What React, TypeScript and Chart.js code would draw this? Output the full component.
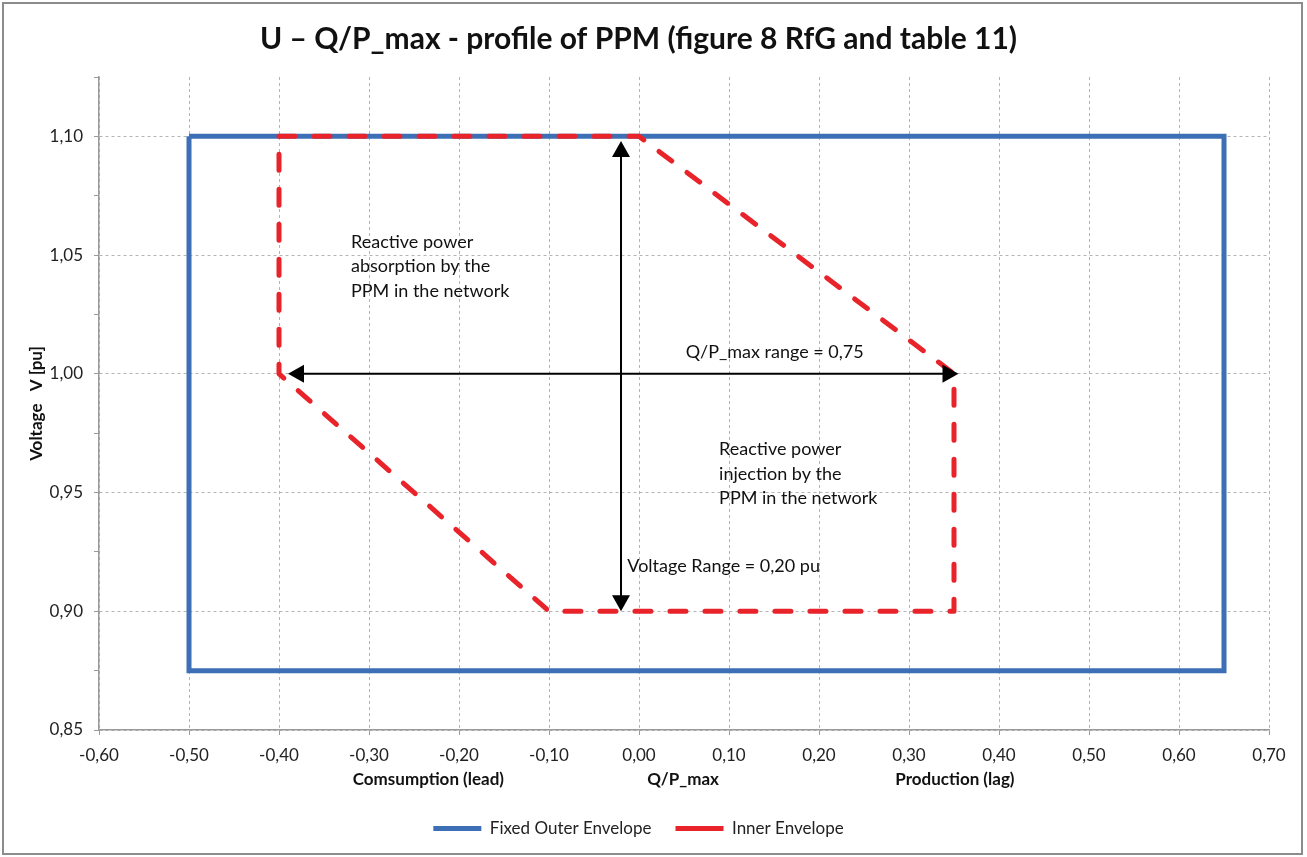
import React, { useEffect, useRef } from "react";
import { Chart, registerables } from "chart.js";

Chart.register(...registerables);

// ---- data ----
const outerX = [-0.5, 0.65, 0.65, -0.5, -0.5];
const outerY = [1.1, 1.1, 0.875, 0.875, 1.1];
const innerX = [-0.4, 0.0, 0.35, 0.35, -0.1, -0.4, -0.4];
const innerY = [1.1, 1.1, 1.0, 0.9, 0.9, 1.0, 1.1];
const seriesNames = ["Fixed Outer Envelope", "Inner Envelope"];

// double-headed arrows (data units)
const arrowX1 = [-0.02, -0.39];
const arrowY1 = [1.098, 1.0];
const arrowX2 = [-0.02, 0.355];
const arrowY2 = [0.9, 1.0];

// text notes, anchored at left/baseline of first line (data units)
const noteLines = [
  ["Reactive power", "absorption by the", "PPM in the network"],
  ["Q/P_max range = 0,75"],
  ["Reactive power", "injection by the", "PPM in the network"],
  ["Voltage Range = 0,20 pu"],
];
const noteX = [-0.32, 0.052, 0.089, -0.013];
const noteY = [1.053, 1.0067, 0.9658, 0.9165];

// x-axis sub titles
const xTitles = ["Comsumption (lead)", "Q/P_max", "Production (lag)"];
const xTitleAt = [-0.234, 0.049, 0.351];

const titleText = "U \u2013 Q/P_max - profile of PPM (figure 8 RfG and table 11)";
const yTitleText = "Voltage   V [pu]";

const FONT = "Lato";
const BLUE = "#3d6fb6";
const RED = "#e8232a";
const GRID = "#b4b4b4";
const AXIS = "#9a9a9a";

const fmt = (v: number) => v.toFixed(2).replace(".", ",");

const overlayPlugin = {
  id: "overlay",
  afterDatasetsDraw(chart: any) {
    const { ctx, scales } = chart;
    const xs = scales.x;
    const ys = scales.y;
    ctx.save();
    // arrows
    ctx.strokeStyle = "#000";
    ctx.fillStyle = "#000";
    ctx.lineWidth = 2;
    const headL = 16;
    const headW = 9;
    for (let i = 0; i < arrowX1.length; i++) {
      const x1 = xs.getPixelForValue(arrowX1[i]);
      const y1 = ys.getPixelForValue(arrowY1[i]);
      const x2 = xs.getPixelForValue(arrowX2[i]);
      const y2 = ys.getPixelForValue(arrowY2[i]);
      const ang = Math.atan2(y2 - y1, x2 - x1);
      const ux = Math.cos(ang);
      const uy = Math.sin(ang);
      ctx.beginPath();
      ctx.moveTo(x1 + ux * headL * 0.8, y1 + uy * headL * 0.8);
      ctx.lineTo(x2 - ux * headL * 0.8, y2 - uy * headL * 0.8);
      ctx.stroke();
      const head = (tx: number, ty: number, dx: number, dy: number) => {
        ctx.beginPath();
        ctx.moveTo(tx, ty);
        ctx.lineTo(tx - dx * headL - dy * headW, ty - dy * headL + dx * headW);
        ctx.lineTo(tx - dx * headL + dy * headW, ty - dy * headL - dx * headW);
        ctx.closePath();
        ctx.fill();
      };
      head(x2, y2, ux, uy);
      head(x1, y1, -ux, -uy);
    }
    // notes
    ctx.font = `18px ${FONT}`;
    ctx.fillStyle = "#111";
    ctx.textAlign = "left";
    ctx.textBaseline = "alphabetic";
    for (let i = 0; i < noteLines.length; i++) {
      const x = xs.getPixelForValue(noteX[i]);
      const y = ys.getPixelForValue(noteY[i]);
      noteLines[i].forEach((line, j) => ctx.fillText(line, x, y + j * 24.5));
    }
    ctx.restore();
  },
  afterDraw(chart: any) {
    const { ctx, scales } = chart;
    const xs = scales.x;
    ctx.save();
    ctx.font = `bold 17px ${FONT}`;
    ctx.fillStyle = "#111";
    ctx.textAlign = "center";
    ctx.textBaseline = "middle";
    xTitles.forEach((t, i) => ctx.fillText(t, xs.getPixelForValue(xTitleAt[i]), 780));
    // chart frame
    ctx.strokeStyle = "#8c8c8c";
    ctx.lineWidth = 2;
    ctx.strokeRect(3, 3, 1299, 851);
    ctx.restore();
  },
  beforeDraw(chart: any) {
    const { ctx } = chart;
    ctx.save();
    ctx.fillStyle = "#fff";
    ctx.fillRect(0, 0, chart.width, chart.height);
    ctx.restore();
  },
};

export default function App() {
  const ref = useRef<HTMLCanvasElement | null>(null);
  useEffect(() => {
    if (!ref.current) return;
    const chart = new Chart(ref.current, {
      type: "scatter",
      data: {
        datasets: [
          {
            label: seriesNames[0],
            data: outerX.map((x, i) => ({ x, y: outerY[i] })),
            showLine: true,
            borderColor: BLUE,
            backgroundColor: BLUE,
            borderWidth: 5,
            pointRadius: 0,
            pointHoverRadius: 0,
            borderJoinStyle: "miter",
            borderCapStyle: "butt",
            order: 1,
          },
          {
            label: seriesNames[1],
            data: innerX.map((x, i) => ({ x, y: innerY[i] })),
            showLine: true,
            borderColor: RED,
            backgroundColor: RED,
            borderWidth: 5,
            borderDash: [16, 19],
            borderCapStyle: "round",
            borderJoinStyle: "round",
            pointRadius: 0,
            pointHoverRadius: 0,
            order: 0,
          },
        ],
      },
      options: {
        animation: false,
        responsive: false,
        layout: { padding: { left: 8, right: 38, top: 0, bottom: 10 } },
        plugins: {
          title: {
            display: true,
            text: titleText,
            font: { family: FONT, size: 30, weight: "bold" },
            color: "#111",
            padding: { top: 21, bottom: 20 },
          },
          legend: {
            position: "bottom",
            labels: {
              usePointStyle: true,
              pointStyle: "line",
              pointStyleWidth: 48,
              font: { family: FONT, size: 17 },
              color: "#222",
              padding: 24,
              sort: (a: any, b: any) => a.datasetIndex - b.datasetIndex,
            },
          },
          tooltip: { enabled: false },
        },
        scales: {
          x: {
            type: "linear",
            min: -0.6,
            max: 0.7,
            afterFit: (s: any) => {
              s.height = 66;
            },
            ticks: {
              stepSize: 0.1,
              callback: (v: any) => fmt(Number(v)),
              font: { family: FONT, size: 17 },
              color: "#222",
              padding: 10,
              maxRotation: 0,
            },
            grid: { color: GRID, tickColor: AXIS, tickLength: 5, lineWidth: 1 },
            border: { color: AXIS, width: 1.5, dash: [3, 3] },
          },
          y: {
            type: "linear",
            min: 0.85,
            max: 1.125,
            afterFit: (s: any) => {
              s.width = 91;
            },
            ticks: {
              stepSize: 0.025,
              callback: (v: any) => {
                const n = Number(v);
                return Math.round(n * 40) % 2 === 0 ? fmt(n) : "";
              },
              font: { family: FONT, size: 17 },
              color: "#222",
              padding: 11,
              autoSkip: false,
            },
            grid: {
              color: (c: any) =>
                c.tick && Math.round(c.tick.value * 40) % 2 === 0 ? GRID : "rgba(0,0,0,0)",
              tickColor: AXIS,
              tickLength: 5,
              lineWidth: 1,
            },
            border: { color: AXIS, width: 1.5, dash: [3, 3] },
            title: {
              display: true,
              text: yTitleText,
              font: { family: FONT, size: 17, weight: "bold" },
              color: "#111",
              padding: { top: 18, bottom: 0 },
            },
          },
        },
      },
      plugins: [overlayPlugin],
    } as any);
    return () => chart.destroy();
  }, []);
  return (
    <div style={{ position: "fixed", left: 0, top: 0, width: 1307, height: 857, background: "#fff" }}>
      <canvas ref={ref} width={1307} height={857} />
    </div>
  );
}
